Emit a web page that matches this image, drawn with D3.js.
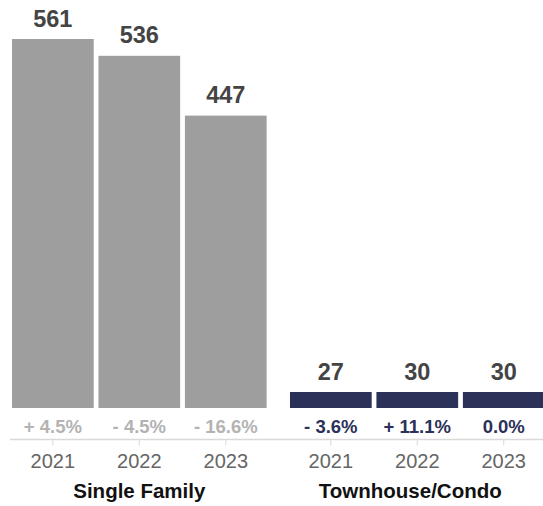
<!DOCTYPE html>
<html>
<head>
<meta charset="utf-8">
<script src="https://cdn.jsdelivr.net/npm/d3@7"></script>
<style>
  html, body { margin: 0; padding: 0; background: #fff; }
  svg { display: block; font-family: "Liberation Sans", Arial, Helvetica, sans-serif; }
</style>
</head>
<body>
<svg id="chart" width="543" height="506"></svg>
<script>
// Sales by property type, three years each
const groups = ["Single Family", "Townhouse/Condo"];
const years = ["2021", "2022", "2023"];
const singleFamily = [561, 536, 447];
const townhouse = [27, 30, 30];
const singleFamilyChange = ["+ 4.5%", "- 4.5%", "- 16.6%"];
const townhouseChange = ["- 3.6%", "+ 11.1%", "0.0%"];

const series = [
  { group: groups[0], values: singleFamily, change: singleFamilyChange, fill: "#9e9e9e", changeColor: "#b3b3b3" },
  { group: groups[1], values: townhouse, change: townhouseChange, fill: "#2b3158", changeColor: "#2b3158" }
];

const W = 543;
const svg = d3.select("#chart");

const barFloor = 408;     // bars stop here, leaving room for the change labels
const axisY = 439.5;
const minBar = 16;        // short bars keep a visible minimum height

const x0 = d3.scaleBand().domain(groups).range([12, 544.6]).paddingInner(0.084).paddingOuter(0);
const x1 = d3.scaleBand().domain(years).range([0, x0.bandwidth()]).paddingInner(0.055).paddingOuter(0);
const y = d3.scaleLinear().domain([0, d3.max(singleFamily)]).range([416, 39]);

const g = svg.append("g");

series.forEach(s => {
  const gg = g.append("g").attr("transform", `translate(${x0(s.group)},0)`);
  const rows = years.map((yr, i) => ({ year: yr, value: s.values[i], change: s.change[i] }));
  const top = d => Math.min(y(d.value), barFloor - minBar);

  gg.selectAll("rect.bar").data(rows).join("rect")
    .attr("class", "bar")
    .attr("x", d => x1(d.year))
    .attr("width", x1.bandwidth())
    .attr("y", top)
    .attr("height", d => barFloor - top(d))
    .attr("fill", s.fill);

  gg.selectAll("text.value").data(rows).join("text")
    .attr("class", "value")
    .attr("x", d => x1(d.year) + x1.bandwidth() / 2)
    .attr("y", d => top(d) - 12.5)
    .attr("text-anchor", "middle")
    .attr("font-size", 23.5)
    .attr("font-weight", "bold")
    .attr("fill", "#444")
    .text(d => d.value);

  gg.selectAll("text.change").data(rows).join("text")
    .attr("class", "change")
    .attr("x", d => x1(d.year) + x1.bandwidth() / 2)
    .attr("y", 433)
    .attr("text-anchor", "middle")
    .attr("font-size", 18.5)
    .attr("font-weight", "bold")
    .attr("fill", s.changeColor)
    .text(d => d.change);

  // year axis under each group
  const axis = d3.axisBottom(x1).tickSize(6).tickPadding(8);
  const ax = gg.append("g").attr("transform", `translate(0,${axisY})`).call(axis);
  ax.select(".domain").remove();
  ax.selectAll(".tick line").attr("stroke", "#d9d9d9");
  ax.selectAll(".tick text")
    .attr("font-size", 20)
    .attr("fill", "#666")
    .attr("font-family", "Liberation Sans, Arial, sans-serif");
});

// shared baseline across both groups
svg.append("line")
  .attr("x1", 10).attr("x2", W)
  .attr("y1", axisY).attr("y2", axisY)
  .attr("stroke", "#d9d9d9").attr("stroke-width", 1.5);

// group titles
const titleShift = { "Single Family": 0, "Townhouse/Condo": -7 };
svg.selectAll("text.group").data(groups).join("text")
  .attr("class", "group")
  .attr("x", d => x0(d) + x0.bandwidth() / 2 + titleShift[d])
  .attr("y", 498)
  .attr("text-anchor", "middle")
  .attr("font-size", 20.5)
  .attr("font-weight", "bold")
  .attr("fill", "#111")
  .text(d => d);
</script>
</body>
</html>
